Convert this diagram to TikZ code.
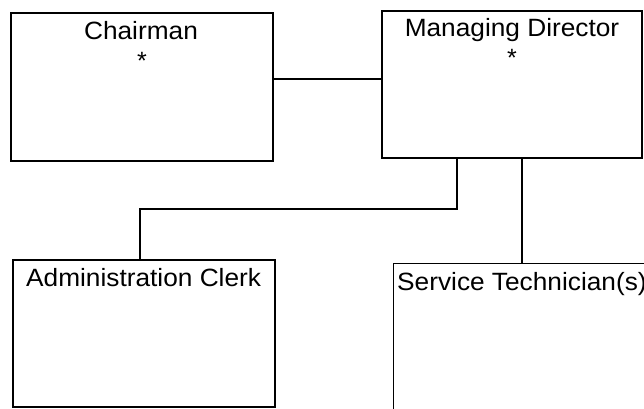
\documentclass[tikz,border=0pt]{standalone}
\usepackage{fontspec}
\setmainfont{Liberation Sans}
\usetikzlibrary{calc}
\tikzset{
  box/.style={draw, line width=2pt, rectangle, inner sep=0pt, outer sep=0pt},
  thinbox/.style={draw, line width=1pt, rectangle, inner sep=0pt, outer sep=0pt},
  link/.style={line width=2pt},
  lbl/.style={inner sep=0pt, font=\fontsize{25}{29}\selectfont}
}
\newcommand{\wide}[1]{\scalebox{1.05}[1]{#1}}
\begin{document}
\begin{tikzpicture}[x=1pt,y=-1pt]
\useasboundingbox (0,0) rectangle (644,408);
\clip (0,0) rectangle (644,408);
\fill[white] (0,0) rectangle (644,408);
% boxes
\node[box, minimum width=262pt, minimum height=148pt] (chair) at (142,87) {};
\node[box, minimum width=260pt, minimum height=147pt] (md) at (512,84.5) {};
\node[box, minimum width=262pt, minimum height=147pt] (admin) at (144,333.5) {};
\node[thinbox, minimum width=262pt, minimum height=147pt] (tech) at (524,336.5) {};
% labels
\node[lbl, anchor=base] (chairT) at (141,39) {\wide{Chairman}};
\node[lbl, anchor=base] (chairS) at (142,69) {*};
\node[lbl, anchor=base] (mdT) at (512,36) {\wide{Managing Director}};
\node[lbl, anchor=base] (mdS) at (512,66) {*};
\node[lbl, anchor=base west] (adminT) at (26,286.5) {\wide{Administration Clerk}};
\node[lbl, anchor=base west] (techT) at (397,290) {\wide{Service Technician(s)}};
% connectors
\draw[link] ([yshift=8pt]chair.east) coordinate (c1) -- (c1 -| md.west);
\draw[link] ([xshift=-55pt]md.south) -- ++(0,51) -| ([xshift=-4pt]admin.north);
\draw[link] ([xshift=10pt]md.south) coordinate (c2) -- (c2 |- tech.north);
\end{tikzpicture}
\end{document}
